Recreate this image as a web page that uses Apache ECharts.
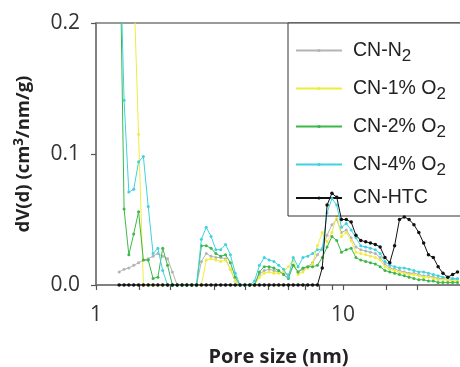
<!DOCTYPE html>
<html><head><meta charset="utf-8">
<script src="https://cdn.jsdelivr.net/npm/echarts@6/dist/echarts.min.js"></script>
<style>html,body{margin:0;padding:0;background:#fff}#c{width:460px;height:367px}</style>
</head><body><div id="c"></div>
<script>
const poreSize = [1.241,1.299,1.358,1.421,1.487,1.555,1.627,1.702,1.780,1.862,1.948,2.038,2.131,2.230,2.332,2.440,2.552,2.670,2.793,2.922,3.056,3.197,3.344,3.499,3.660,3.828,4.005,4.189,4.382,4.584,4.796,5.017,5.248,5.489,5.742,6.007,6.284,6.573,6.876,7.193,7.525,7.871,8.234,8.613,9.010,9.426,9.848,10.30,10.78,11.27,11.79,12.34,12.90,13.50,14.12,14.77,15.45,16.16,16.91,17.69,18.50,19.35,20.25,21.18,22.15,23.18,24.24,25.36,26.53,27.75,29.03];

const cnN2 = [0.010,0.012,0.013,0.015,0.017,0.019,0.020,0.022,0.024,0.022,0.020,0.010,0,0,0,0,0,0.018,0.024,0.022,0.021,0.021,0.020,0.012,0.003,0,0,0,0,0.008,0.011,0.012,0.011,0.010,0.009,0.008,0.015,0.010,0.012,0.014,0.017,0.023,0.028,0.038,0.046,0.050,0.040,0.042,0.036,0.029,0.027,0.026,0.025,0.024,0.021,0.016,0.013,0.012,0.011,0.010,0.009,0.009,0.008,0.007,0.007,0.006,0.005,0.005,0.004,0.004,0.004];

const cn1O2 = [0.45,0.42,0.36,0.23,0.115,0,0,0,0,0,0,0,0,0,0,0,0,0,0.019,0.020,0.019,0.018,0.019,0.012,0.003,0,0,0,0,0.006,0.009,0.010,0.009,0.009,0.010,0.014,0.019,0.008,0.010,0.013,0.016,0.030,0.040,0.033,0.040,0.053,0.037,0.040,0.034,0.025,0.024,0.023,0.022,0.021,0.019,0.014,0.012,0.011,0.010,0.009,0.008,0.008,0.007,0.006,0.006,0.005,0.004,0.004,0.004,0.003,0.003];

const cn2O2 = [0.30,0.058,0.023,0.039,0.056,0.019,0.019,0.005,0.006,0.028,0.015,0,0,0,0,0,0,0.030,0.030,0.028,0.024,0.022,0.023,0.017,0.006,0,0,0,0,0.010,0.014,0.014,0.013,0.011,0.008,0.005,0.015,0.010,0.013,0.014,0.014,0.015,0.021,0.029,0.037,0.034,0.025,0.027,0.028,0.021,0.019,0.018,0.017,0.016,0.014,0.011,0.010,0.009,0.008,0.007,0.006,0.005,0.004,0.004,0.003,0.003,0.002,0.002,0.002,0.002,0.002];

const cn4O2 = [0.28,0.141,0.071,0.073,0.094,0.098,0.060,0.024,0.028,0.011,0,0,0,0,0,0,0,0.035,0.044,0.037,0.027,0.027,0.031,0.023,0.009,0,0,0,0.003,0.015,0.021,0.019,0.018,0.015,0.012,0.006,0.021,0.014,0.021,0.022,0.024,0.027,0.027,0.055,0.066,0.061,0.044,0.047,0.042,0.036,0.030,0.029,0.028,0.027,0.024,0.018,0.015,0.014,0.013,0.013,0.012,0.011,0.010,0.010,0.009,0.008,0.007,0.006,0.006,0.005,0.005];

const cnHTC = [0,0,0,0,0,0,0,0,0,0,0,0,0,0,0,0,0,0,0,0,0,0,0,0,0,0,0,0,0,0,0,0,0,0,0,0,0,0,0,0,0,0,0.013,0.061,0.070,0.067,0.050,0.050,0.048,0.038,0.034,0.033,0.032,0.031,0.029,0.021,0.017,0.030,0.050,0.052,0.050,0.046,0.040,0.032,0.023,0.021,0.014,0.009,0.006,0.008,0.010];

const seriesNames = ['CN-N2','CN-1% O2','CN-2% O2','CN-4% O2','CN-HTC'];
const seriesValues = [cnN2, cn1O2, cn2O2, cn4O2, cnHTC];
const seriesColors = ['#b4b4b4','#f0ec3c','#3cb84a','#3fd2df','#111111'];
const xTickValues = [1,1.5,2,3,4,5,6,7,8,9,10,15,20,30];
const xLabelValues = [1,10];

const chart = echarts.init(document.getElementById('c'), null, {renderer:'canvas'});
const axisColor = '#7a7a7a';
const option = {
  animation:false,
  backgroundColor:'#fff',
  grid:{left:96, right:-1, top:23, bottom:82, show:true, borderColor:axisColor, borderWidth:1.5, containLabel:false, outerBoundsMode:'none'},
  xAxis:{
    type:'log', logBase:10, min:1, max:30,
    axisLine:{show:true, lineStyle:{color:axisColor, width:1.5}},
    axisTick:{show:true, inside:false, customValues:xTickValues, length:5, lineStyle:{color:'#555', width:1.2}},
    axisLabel:{customValues:xLabelValues, fontSize:21, color:'#333', margin:20, fontFamily:'Open Sans'},
    minorTick:{show:false}, splitLine:{show:false},
    name:'Pore size (nm)', nameLocation:'middle', nameGap:62,
    nameTextStyle:{fontFamily:'Open Sans', fontWeight:'bold', fontSize:20, color:'#222'}
  },
  yAxis:{
    type:'value', min:0, max:0.2, interval:0.1,
    axisLine:{show:true, lineStyle:{color:axisColor, width:1.5}},
    axisTick:{show:true, length:5, lineStyle:{color:'#555', width:1.2}},
    axisLabel:{formatter:v=>v.toFixed(1), fontSize:21, color:'#333', margin:16, fontFamily:'Open Sans'},
    splitLine:{show:false},
    name:'{a|dV(d) (cm}{b|3}{a|/nm/g)}', nameLocation:'middle', nameGap:62,
    nameTextStyle:{rich:{
      a:{fontFamily:'Open Sans', fontWeight:'bold', fontSize:18.5, color:'#222', lineHeight:20},
      b:{fontFamily:'Open Sans', fontWeight:'bold', fontSize:13.5, color:'#222', lineHeight:10, padding:[0,0,10,0]}
    }}
  },
  legend:{
    orient:'vertical', left:288, top:23, data:seriesNames,
    itemWidth:46, itemHeight:4, itemGap:9,
    borderColor:'#333', borderWidth:1, padding:[13,40,8,7], backgroundColor:'#fff',
    formatter:function(n){ return /2$/.test(n) ? '{a|'+n.slice(0,-1)+'}{s|2}' : '{a|'+n+'}'; },
    textStyle:{rich:{
      a:{fontFamily:'Liberation Sans', fontSize:19.5, color:'#222', lineHeight:22, padding:[0,0,0,6]},
      s:{fontFamily:'Liberation Sans', fontSize:17, color:'#222', lineHeight:10, padding:[12,0,0,0]}
    }}
  },
  series: seriesNames.map((name,i)=>({
    name:name, type:'line', data: poreSize.map((d,k)=>[d, seriesValues[i][k]]),
    symbol:'circle', symbolSize: i===4 ? 3.5 : 3,
    lineStyle:{color:seriesColors[i], width:1},
    itemStyle:{color:seriesColors[i]},
    clip:true, z: 2+i
  }))
};
chart.setOption(option);
</script></body></html>
